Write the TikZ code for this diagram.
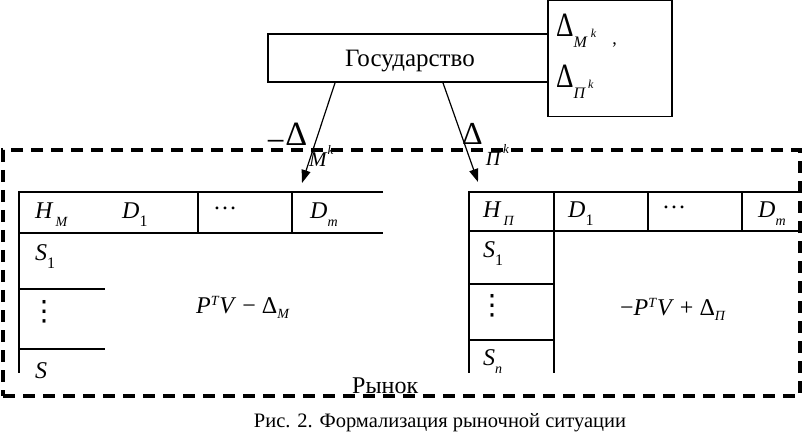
\documentclass[tikz,border=0pt]{standalone}
\usepackage{fontspec}
\setmainfont{Liberation Serif}
\newfontfamily\djv{DejaVu Sans}
\usetikzlibrary{arrows.meta}
\newcommand{\fs}[1]{\fontsize{#1}{#1}\selectfont}
\newcommand{\lo}[3]{\raisebox{-#1pt}{\fs{#2}#3}}
\newcommand{\hi}[3]{\raisebox{#1pt}{\fs{#2}#3}}
\newcommand{\bigD}{\scalebox{0.8}[1]{\fs{34}Δ}}
\begin{document}
\begin{tikzpicture}[x=1pt,y=-1pt,
  txt/.style={inner sep=0pt,anchor=base west},
  box/.style={draw,line width=1.8pt,inner sep=0pt},
  grid/.style={line width=1.1pt},
  vdot/.style={inner sep=0pt,anchor=base west,font=\djv\fs{28}},
  conn/.style={line width=1.2pt,-{Triangle[length=13pt,width=9pt]}}]
\useasboundingbox (0,0) rectangle (805,438);
% market dashed frame
\node[draw,line width=3.5pt,dash pattern=on 12pt off 8pt,minimum width=797pt,minimum height=246pt,inner sep=0pt] (market) at (401.5,273) {};
% state box
\node[box,minimum width=280pt,minimum height=48pt] (gov) at (408,58) {};
\node[txt,font=\fs{25}] (govt) at (345,67) {Государство};
% delta box
\node[box,minimum width=124pt,minimum height=116pt] (dbox) at (610,58.5) {};
\node[txt] (d1) at (556,37) {\bigD\lo{11}{16}{\textit{M}}\hspace{3pt}\hi{-1}{12}{\textit{k}}\hspace{16pt}\lo{8}{18}{,}};
\node[txt] (d2) at (556,88) {\bigD\lo{11}{16}{\textit{П}}\hspace{2pt}\hi{-1}{12}{\textit{k}}};
% arrows
\coordinate (tipM) at (302,183);
\coordinate (tipP) at (478,182);
\draw[conn] ([xshift=-73pt]gov.south) -- (tipM);
\draw[conn] ([xshift=35pt]gov.south) -- (tipP);
\node[txt,font=\fs{34}] (lm) at (266,146) {\raisebox{-7pt}{−}Δ\hspace{2pt}\lo{21}{21}{\textit{M}}\lo{9}{13}{\textit{k}}};
\node[txt,font=\fs{32}] (lp) at (462,145) {Δ\hspace{3pt}\lo{21}{20}{\textit{П}}\hspace{2pt}\lo{9}{13}{\textit{k}}};
% left table
\draw[grid] (383,192) -- (19,192) -- (19,373);
\draw[grid] (19,233) -- (383,233);
\draw[grid] (198,192) -- (198,233);
\draw[grid] (292,192) -- (292,233);
\draw[grid] (19,289) -- (105,289);
\draw[grid] (19,349) -- (105,349);
\node[txt,font=\fs{24}] (hm) at (35,219) {\textit{H}\hspace{2pt}\lo{8}{14}{\textit{M}}};
\node[txt,font=\fs{24}] (d1l) at (122,219) {\textit{D}\lo{8}{16}{1}};
\node[txt,font=\fs{24}] (dotsl) at (213,218) {\raisebox{8pt}{…}};
\node[txt,font=\fs{24}] (dml) at (310,219) {\textit{D}\lo{8}{14}{\textit{m}}};
\node[txt,font=\fs{24}] (s1l) at (35,261) {\textit{S}\lo{8}{16}{1}};
\node[vdot] (vdl) at (30,320) {⋮};
\node[txt,font=\fs{24}] (snl) at (35,378) {\textit{S}};
\node[txt,font=\fs{24}] (ml) at (196,313) {\textit{P}\hi{8}{14}{\textit{T}}\textit{V} − Δ\lo{5}{14}{\textit{M}}};
% right table
\draw[grid] (798,192) -- (469,192) -- (469,373);
\draw[grid] (469,231) -- (798,231);
\draw[grid] (554,192) -- (554,373);
\draw[grid] (648,192) -- (648,231);
\draw[grid] (742,192) -- (742,231);
\draw[grid] (469,284) -- (554,284);
\draw[grid] (469,340) -- (554,340);
\node[txt,font=\fs{24}] (hp) at (483,218) {\textit{H}\hspace{2pt}\lo{8}{14}{\textit{П}}};
\node[txt,font=\fs{24}] (d1r) at (568,218) {\textit{D}\lo{8}{16}{1}};
\node[txt,font=\fs{24}] (dotsr) at (662,217) {\raisebox{8pt}{…}};
\node[txt,font=\fs{24}] (dmr) at (758,218) {\textit{D}\lo{8}{14}{\textit{m}}};
\node[txt,font=\fs{24}] (s1r) at (483,258) {\textit{S}\lo{8}{16}{1}};
\node[vdot] (vdr) at (478,314) {⋮};
\node[txt,font=\fs{24}] (snr) at (483,365) {\textit{S}\lo{8}{14}{\textit{n}}};
\node[txt,font=\fs{24}] (mr) at (620,315) {−\textit{P}\hi{8}{14}{\textit{T}}\textit{V} + Δ\lo{5}{14}{\textit{П}}};
% labels
\node[txt,font=\fs{24}] (rynok) at (352,393) {Рынок};
\node[inner sep=0pt,anchor=base,font=\fs{20.5}] (cap) at (440,427) {Рис. 2. Формализация рыночной ситуации};
\end{tikzpicture}
\end{document}
